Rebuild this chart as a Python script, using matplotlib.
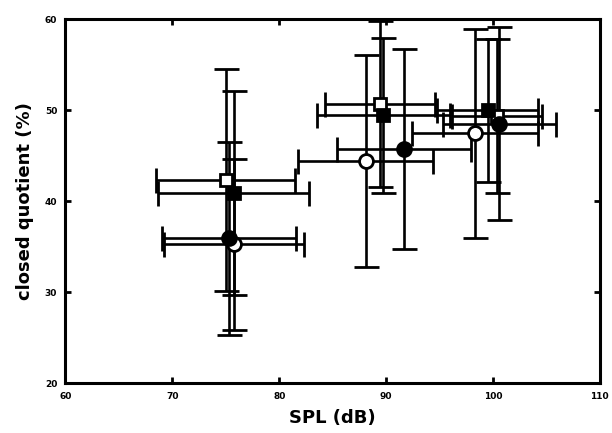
import matplotlib.pyplot as plt

# SPL (dB) and closed quotient (%) with +/- error, three loudness conditions each
spl_open_sq = [75.0, 89.4, 100.35]
cq_open_sq = [42.3, 50.7, 49.4]
spl_err_open_sq = [6.5, 5.15, 4.2]
cq_err_open_sq = [12.2, 9.1, 8.5]

spl_open_ci = [75.75, 88.1, 98.3]
cq_open_ci = [35.3, 44.45, 47.5]
spl_err_open_ci = [6.55, 6.3, 5.9]
cq_err_open_ci = [9.4, 11.65, 11.5]

spl_fill_sq = [75.75, 89.75, 99.5]
cq_fill_sq = [40.9, 49.45, 50.0]
spl_err_fill_sq = [7.05, 6.25, 4.7]
cq_err_fill_sq = [11.2, 8.55, 7.9]

spl_fill_ci = [75.3, 91.7, 100.6]
cq_fill_ci = [35.95, 45.75, 48.55]
spl_err_fill_ci = [6.3, 6.25, 5.3]
cq_err_fill_ci = [10.6, 10.95, 10.65]

fig = plt.figure(figsize=(6.12, 4.33), dpi=100)
ax = fig.add_axes([0.107, 0.115, 0.873, 0.84])

common = dict(ecolor="black", elinewidth=1.9, capsize=9, capthick=2.5,
              markeredgecolor="black", markeredgewidth=2.0, linestyle="none")

ax.errorbar(spl_open_sq, cq_open_sq, xerr=spl_err_open_sq, yerr=cq_err_open_sq,
            marker="s", markersize=8, markerfacecolor="white", **common)
ax.errorbar(spl_open_ci, cq_open_ci, xerr=spl_err_open_ci, yerr=cq_err_open_ci,
            marker="o", markersize=10, markerfacecolor="white", **common)
ax.errorbar(spl_fill_sq, cq_fill_sq, xerr=spl_err_fill_sq, yerr=cq_err_fill_sq,
            marker="s", markersize=8, markerfacecolor="black", **common)
ax.errorbar(spl_fill_ci, cq_fill_ci, xerr=spl_err_fill_ci, yerr=cq_err_fill_ci,
            marker="o", markersize=10, markerfacecolor="black", **common)

ax.set_xlim(60, 110)
ax.set_ylim(20, 60)
ax.set_xticks([60, 70, 80, 90, 100, 110])
ax.set_yticks([20, 30, 40, 50, 60])
ax.tick_params(direction="in", top=True, right=True, length=4, width=2,
               labelsize=6.5, pad=6)
for lbl in ax.get_xticklabels() + ax.get_yticklabels():
    lbl.set_fontweight("bold")
for s in ax.spines.values():
    s.set_linewidth(2.2)

ax.set_xlabel("SPL (dB)", fontsize=13, fontweight="bold", labelpad=6)
ax.set_ylabel("closed quotient (%)", fontsize=13, fontweight="bold", labelpad=8)

fig.savefig("out.png", dpi=100)
